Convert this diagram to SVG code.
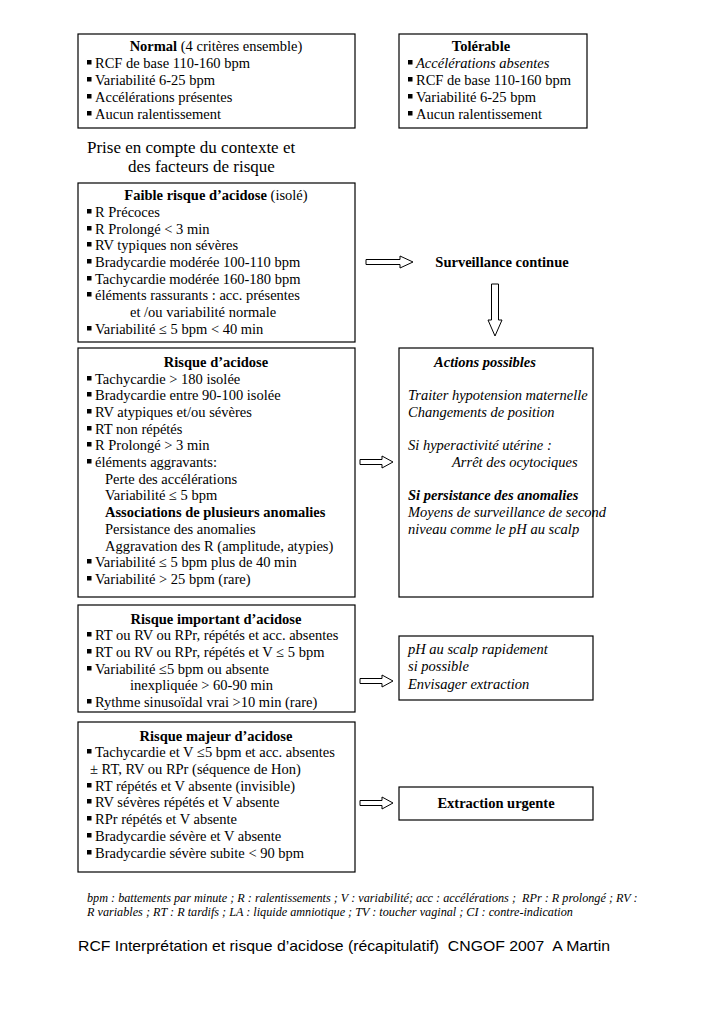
<svg xmlns="http://www.w3.org/2000/svg" xmlns:xlink="http://www.w3.org/1999/xlink" width="725" height="1024" viewBox="0 0 725 1024">
<style>
.box{fill:#fff;stroke:#000;stroke-width:1.2}
.t{font-family:"Liberation Serif","Times New Roman",serif;font-size:14.5px;fill:#000}
.b{font-weight:bold}
.i{font-style:italic}
.c{text-anchor:middle}
.arr{fill:#fff;stroke:#000;stroke-width:1}
.fn{font-family:"Liberation Serif",serif;font-size:12.2px;font-style:italic;fill:#000}
.title{font-family:"Liberation Sans",Arial,sans-serif;font-size:14.5px;fill:#000}
</style>
<defs>
<rect id="bul" x="0" y="-8" width="4.5" height="4.5" fill="#000"/>
</defs>
<rect width="725" height="1024" fill="#fff"/>

<g id="normal">
<rect class="box" x="78" y="34" width="277" height="94"/>
<text class="t c" x="216" y="51"><tspan class="b">Normal</tspan> (4 critères ensemble)</text>
<use xlink:href="#bul" x="87" y="68"/><text class="t" x="95" y="68">RCF de base 110-160 bpm</text>
<use xlink:href="#bul" x="87" y="85"/><text class="t" x="95" y="85">Variabilité 6-25 bpm</text>
<use xlink:href="#bul" x="87" y="102"/><text class="t" x="95" y="102">Accélérations présentes</text>
<use xlink:href="#bul" x="87" y="119"/><text class="t" x="95" y="119">Aucun ralentissement</text>
</g>

<g id="tolerable">
<rect class="box" x="399" y="34" width="188" height="94"/>
<text class="t b c" x="481" y="51">Tolérable</text>
<use xlink:href="#bul" x="408" y="68"/><text class="t i" x="416" y="68">Accélérations absentes</text>
<use xlink:href="#bul" x="408" y="85"/><text class="t" x="416" y="85">RCF de base 110-160 bpm</text>
<use xlink:href="#bul" x="408" y="102"/><text class="t" x="416" y="102">Variabilité 6-25 bpm</text>
<use xlink:href="#bul" x="408" y="119"/><text class="t" x="416" y="119">Aucun ralentissement</text>
</g>

<g id="contexte">
<text class="t" style="font-size:17px" x="87" y="153">Prise en compte du contexte et</text>
<text class="t" style="font-size:17px" x="128" y="172">des facteurs de risque</text>
</g>

<g id="faible">
<rect class="box" x="78" y="183" width="277" height="159"/>
<text class="t c" x="216" y="200"><tspan class="b">Faible risque d’acidose</tspan> (isolé)</text>
<use xlink:href="#bul" x="87" y="217"/><text class="t" x="95" y="217">R Précoces</text>
<use xlink:href="#bul" x="87" y="234"/><text class="t" x="95" y="234">R Prolongé &lt; 3 min</text>
<use xlink:href="#bul" x="87" y="250"/><text class="t" x="95" y="250">RV typiques non sévères</text>
<use xlink:href="#bul" x="87" y="267"/><text class="t" x="95" y="267">Bradycardie modérée 100-110 bpm</text>
<use xlink:href="#bul" x="87" y="284"/><text class="t" x="95" y="284">Tachycardie modérée 160-180 bpm</text>
<use xlink:href="#bul" x="87" y="300"/><text class="t" x="95" y="300">éléments rassurants : acc. présentes</text>
<text class="t" x="130" y="317">et /ou variabilité normale</text>
<use xlink:href="#bul" x="87" y="334"/><text class="t" x="95" y="334">Variabilité ≤ 5 bpm &lt; 40 min</text>
</g>

<g id="surveillance">
<text class="t b c" x="502" y="267">Surveillance continue</text>
</g>

<g id="risque">
<rect class="box" x="78" y="348" width="277" height="249"/>
<text class="t b c" x="216" y="367">Risque d’acidose</text>
<use xlink:href="#bul" x="87" y="384"/><text class="t" x="95" y="384">Tachycardie &gt; 180 isolée</text>
<use xlink:href="#bul" x="87" y="400"/><text class="t" x="95" y="400">Bradycardie entre 90-100 isolée</text>
<use xlink:href="#bul" x="87" y="417"/><text class="t" x="95" y="417">RV atypiques et/ou sévères</text>
<use xlink:href="#bul" x="87" y="434"/><text class="t" x="95" y="434">RT non répétés</text>
<use xlink:href="#bul" x="87" y="450"/><text class="t" x="95" y="450">R Prolongé &gt; 3 min</text>
<use xlink:href="#bul" x="87" y="467"/><text class="t" x="95" y="467">éléments aggravants:</text>
<text class="t" x="105" y="484">Perte des accélérations</text>
<text class="t" x="105" y="500">Variabilité ≤ 5 bpm</text>
<text class="t b" x="105" y="517">Associations de plusieurs anomalies</text>
<text class="t" x="105" y="534">Persistance des anomalies</text>
<text class="t" x="105" y="551">Aggravation des R (amplitude, atypies)</text>
<use xlink:href="#bul" x="87" y="567"/><text class="t" x="95" y="567">Variabilité ≤ 5 bpm plus de 40 min</text>
<use xlink:href="#bul" x="87" y="584"/><text class="t" x="95" y="584">Variabilité &gt; 25 bpm (rare)</text>
</g>

<g id="actions">
<rect class="box" x="399" y="348" width="194" height="249"/>
<text class="t b i c" x="485" y="367">Actions possibles</text>
<text class="t i" x="408" y="400">Traiter hypotension maternelle</text>
<text class="t i" x="408" y="417">Changements de position</text>
<text class="t i" x="408" y="450">Si hyperactivité utérine :</text>
<text class="t i" x="452" y="467">Arrêt des ocytociques</text>
<text class="t b i" x="408" y="500">Si persistance des anomalies</text>
<text class="t i" x="408" y="517">Moyens de surveillance de second</text>
<text class="t i" x="408" y="534">niveau comme le pH au scalp</text>
</g>

<g id="important">
<rect class="box" x="78" y="605" width="277" height="107"/>
<text class="t b c" x="216" y="624">Risque important d’acidose</text>
<use xlink:href="#bul" x="87" y="640"/><text class="t" x="95" y="640">RT ou RV ou RPr, répétés et acc. absentes</text>
<use xlink:href="#bul" x="87" y="657"/><text class="t" x="95" y="657">RT ou RV ou RPr, répétés et V ≤ 5 bpm</text>
<use xlink:href="#bul" x="87" y="674"/><text class="t" x="95" y="674">Variabilité ≤5 bpm ou absente</text>
<text class="t" x="130" y="690">inexpliquée &gt; 60-90 min</text>
<use xlink:href="#bul" x="87" y="707"/><text class="t" x="95" y="707">Rythme sinusoïdal vrai &gt;10 min (rare)</text>
</g>

<g id="ph">
<rect class="box" x="399" y="636" width="194" height="64"/>
<text class="t i" x="408" y="654">pH au scalp rapidement</text>
<text class="t i" x="408" y="671">si possible</text>
<text class="t i" x="408" y="689">Envisager extraction</text>
</g>

<g id="majeur">
<rect class="box" x="78" y="722" width="277" height="150"/>
<text class="t b c" x="216" y="741">Risque majeur d’acidose</text>
<use xlink:href="#bul" x="87" y="757"/><text class="t" x="95" y="757">Tachycardie et V ≤5 bpm et acc. absentes</text>
<text class="t" x="90" y="774">± RT, RV ou RPr (séquence de Hon)</text>
<use xlink:href="#bul" x="87" y="791"/><text class="t" x="95" y="791">RT répétés et V absente (invisible)</text>
<use xlink:href="#bul" x="87" y="807"/><text class="t" x="95" y="807">RV sévères répétés et V absente</text>
<use xlink:href="#bul" x="87" y="824"/><text class="t" x="95" y="824">RPr répétés et V absente</text>
<use xlink:href="#bul" x="87" y="841"/><text class="t" x="95" y="841">Bradycardie sévère et V absente</text>
<use xlink:href="#bul" x="87" y="858"/><text class="t" x="95" y="858">Bradycardie sévère subite &lt; 90 bpm</text>
</g>

<g id="extraction">
<rect class="box" x="399" y="787" width="194" height="33"/>
<text class="t b c" x="496" y="808">Extraction urgente</text>
</g>

<g id="connectors">
<polygon class="arr" points="366,259.5 400,259.5 400,256 413,262 400,268 400,264.5 366,264.5"/>
<polygon class="arr" points="491.5,284 498.5,284 498.5,320 502,320 495,336 488,320 491.5,320"/>
<polygon class="arr" points="360,459.5 382,459.5 382,456 393,462 382,468 382,464.5 360,464.5"/>
<polygon class="arr" points="360,678.5 382,678.5 382,675 393,681 382,687 382,683.5 360,683.5"/>
<polygon class="arr" points="360,800.5 382,800.5 382,797 393,803 382,809 382,805.5 360,805.5"/>
</g>

<g id="footnote">
<text class="fn" x="87" y="902" xml:space="preserve">bpm : battements par minute ; R : ralentissements ; V : variabilité; acc : accélérations ;  RPr : R prolongé ; RV :</text>
<text class="fn" x="87" y="916">R variables ; RT : R tardifs ; LA : liquide amniotique ; TV : toucher vaginal ; CI : contre-indication</text>
</g>

<g id="title">
<text class="title" x="78" y="951" textLength="532" lengthAdjust="spacingAndGlyphs" xml:space="preserve">RCF Interprétation et risque d’acidose (récapitulatif)  CNGOF 2007  A Martin</text>
</g>
</svg>
